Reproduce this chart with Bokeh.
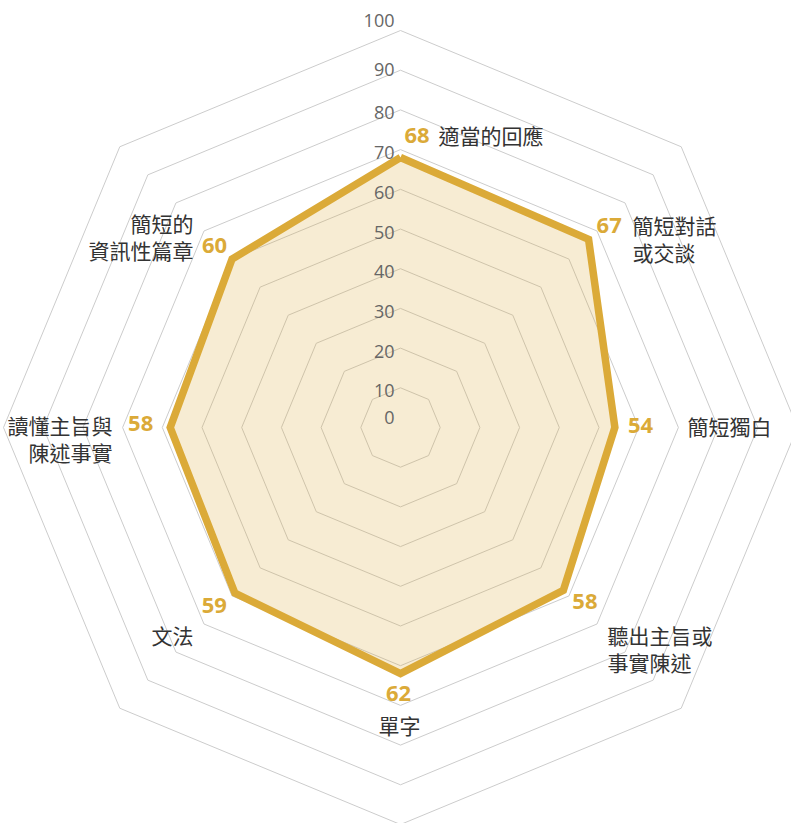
import math
from bokeh.plotting import figure
from bokeh.models import Range1d
from bokeh.core.properties import value
from bokeh.embed import file_html
from bokeh.resources import INLINE

# ---- data ----
categories = ["適當的回應", "簡短對話\n或交談", "簡短獨白", "聽出主旨或\n事實陳述",
              "單字", "文法", "讀懂主旨與\n陳述事實", "簡短的\n資訊性篇章"]
scores = [68, 67, 54, 58, 62, 59, 58, 60]
ring_ticks = [10, 20, 30, 40, 50, 60, 70, 80, 90, 100]
tick_labels = ["0", "10", "20", "30", "40", "50", "60", "70", "80", "90", "100"]

# ---- layout ----
W, H = 791, 823
CX, CY = 400, 427          # center in figure pixels
S = 3.97                   # pixels per unit
FONT = "Open Sans, Noto Sans CJK TC"
GOLD = "#dbaa38"

n = len(categories)
angles = [math.pi / 2 - 2 * math.pi * i / n for i in range(n)]

p = figure(width=W, height=H, output_backend="svg", toolbar_location=None,
           x_range=Range1d(-CX / S, (W - CX) / S),
           y_range=Range1d(-(H - CY) / S, CY / S),
           min_border=0, outline_line_color=None, background_fill_color="white",
           border_fill_color="white")
p.axis.visible = False
p.grid.visible = False

# rings
for r in ring_ticks:
    xs = [r * math.cos(a) for a in angles] + [r * math.cos(angles[0])]
    ys = [r * math.sin(a) for a in angles] + [r * math.sin(angles[0])]
    p.line(xs, ys, line_color="#cccccc", line_width=1)

# data polygon
px = [v * math.cos(a) for v, a in zip(scores, angles)]
py = [v * math.sin(a) for v, a in zip(scores, angles)]
p.patch(px, py, fill_color=GOLD, fill_alpha=0.22, line_color=None)
p.line(px + [px[0]], py + [py[0]], line_color=GOLD, line_width=7.5, line_join="miter")

# tick labels
tx, ty, tt = [], [], []
for i, lab in enumerate(tick_labels):
    r = i * 10
    off = 3
    if r == 0:
        off = -10
    elif r == 100:
        off = -10
    elif r == 90:
        off = -1
    tx.append(-6 / S)
    ty.append(r - off / S)
    tt.append(lab)
p.text(tx, ty, text=tt, text_align="right", text_baseline="middle",
       text_font=value(FONT), text_font_size="18px", text_color="#666666")

# value labels (offsets in px: dx right, dy up)
val_off = [(4, 22, "left"), (8, 14, "left"), (13, 2, "left"), (9, -11, "left"),
           (-2, -20, "center"), (-8, -12, "right"), (-17, 4, "right"), (-5, 14, "right")]
for (x0, y0, v, (dx, dy, al)) in zip(px, py, scores, val_off):
    p.text([x0 + dx / S], [y0 + dy / S], text=[str(v)], text_align=al,
           text_baseline="middle", text_font=value(FONT), text_font_size="22px",
           text_font_style="bold", text_color=GOLD)

# category labels (px relative to center; first-line center)
cat_pos = [(38, 292, "left"), (232, 202, "left"), (287, 1, "left"), (207, -208, "left"),
           (-1, -298, "center"), (-207, -208, "right"), (-288, 2, "right"), (-207, 204, "right")]
for cat, (dx, dy, al) in zip(categories, cat_pos):
    for j, line in enumerate(cat.split("\n")):
        p.text([dx / S], [(dy - 27 * j) / S], text=[line], text_align=al,
               text_baseline="middle", text_font=value(FONT), text_font_size="21px",
               text_color="#333333")

open("out.html", "w").write(file_html(p, INLINE))
